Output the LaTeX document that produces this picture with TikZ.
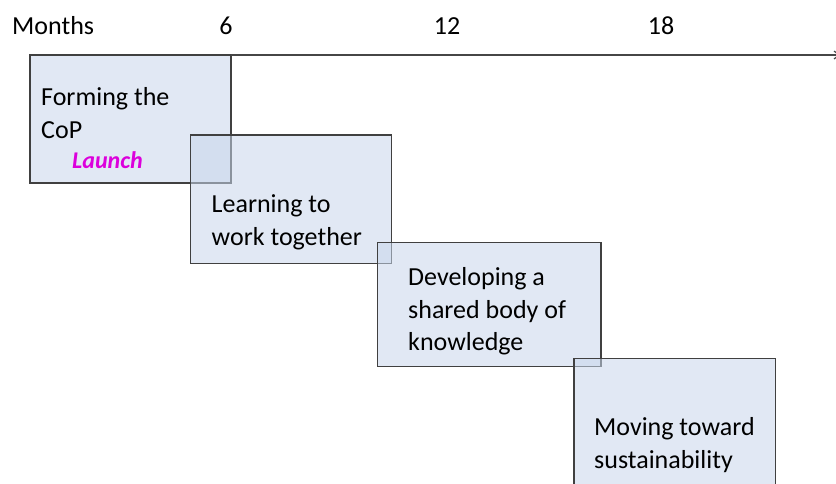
\documentclass[tikz,border=0pt]{standalone}
\usepackage{fontspec}
\setmainfont{Carlito}
\usetikzlibrary{arrows.meta}
\definecolor{boxfill}{RGB}{200,214,235}
\definecolor{boxline}{RGB}{64,64,64}
\definecolor{axisline}{RGB}{70,70,70}
\definecolor{launchcol}{RGB}{220,0,220}
\tikzset{
  phasebox/.style={draw=boxline, line width=1.4pt, fill=boxfill, fill opacity=0.55, inner sep=0pt},
  boxtext/.style={anchor=base west, inner sep=0pt, font=\fontsize{26}{33}\selectfont, text=black},
  axislabel/.style={anchor=base, inner sep=0pt, font=\fontsize{26}{33}\selectfont, text=black},
}
\begin{document}
\begin{tikzpicture}[x=1pt, y=-1pt]
\useasboundingbox (0,0) rectangle (836,483);
\clip (0,0) rectangle (836,483);
% boxes
\draw[phasebox] (30,55) rectangle (231,183);
\coordinate (b1ne) at (231,55);
\draw[phasebox] (190.7,135) rectangle (391.7,263.3);
\draw[phasebox] (377.7,242.3) rectangle (601,366.7);
\draw[phasebox] (574,358.3) rectangle (775.5,520);
% axis
\coordinate (axisend) at (840,55);
\draw[axisline, line width=1.2pt, -{Straight Barb[length=5pt,width=8pt]}] (b1ne) -- (axisend);
% axis labels
\node[anchor=base west, inner sep=0pt, font=\fontsize{26}{33}\selectfont] (months) at (12,34) {Months};
\node[axislabel] (m6) at (226,34) {6};
\node[axislabel] (m12) at (447,34) {12};
\node[axislabel] (m18) at (661,34) {18};
% box texts
\node[boxtext] (t1a) at (41,105) {Forming the};
\node[boxtext] (t1b) at (41,138) {CoP};
\node[anchor=base west, inner sep=0pt, font=\fontsize{24}{30}\selectfont\bfseries\itshape, text=launchcol] (launch) at (72,168) {Launch};
\node[boxtext] (t2a) at (211.5,212) {Learning to};
\node[boxtext] (t2b) at (211.5,245) {work together};
\node[boxtext] (t3a) at (408,285) {Developing a};
\node[boxtext] (t3b) at (408,318) {shared body of};
\node[boxtext] (t3c) at (408,350) {knowledge};
\node[boxtext] (t4a) at (594,435) {Moving toward};
\node[boxtext] (t4b) at (594,468) {sustainability};
\end{tikzpicture}
\end{document}
